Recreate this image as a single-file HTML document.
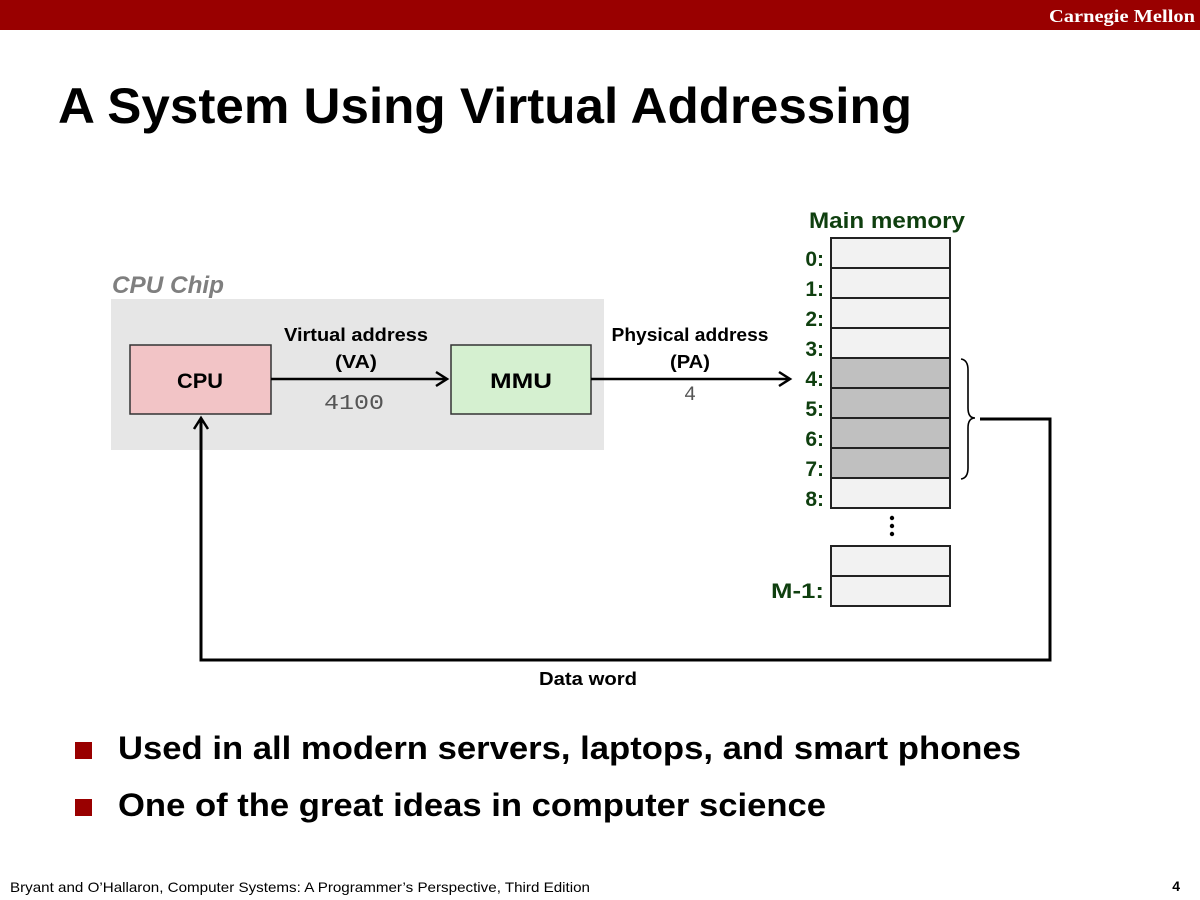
<!DOCTYPE html>
<html><head><meta charset="utf-8"><style>
html,body{margin:0;padding:0;background:#fff;}
svg{display:block;}
text{font-family:"Liberation Sans",sans-serif;font-weight:bold;}
</style></head><body>
<svg width="1200" height="900" viewBox="0 0 1200 900" xmlns="http://www.w3.org/2000/svg">
<rect x="0" y="0" width="1200" height="30" fill="#990000"/>
<text x="1195" y="22" text-anchor="end" fill="#fff" style="font-family:'Liberation Serif',serif" font-size="18" textLength="146" lengthAdjust="spacingAndGlyphs">Carnegie Mellon</text>
<text x="58" y="123" font-size="50" fill="#000" textLength="854" lengthAdjust="spacingAndGlyphs">A System Using Virtual Addressing</text>

<rect x="111" y="299" width="493" height="151" fill="#e6e6e6"/>
<text x="112" y="293" font-size="24" fill="#7f7f7f" font-style="italic" textLength="112" lengthAdjust="spacingAndGlyphs">CPU Chip</text>

<rect x="130" y="345" width="141" height="69" fill="#f2c4c6" stroke="#333" stroke-width="1.5"/>
<text x="200" y="388" font-size="21" text-anchor="middle" textLength="46" lengthAdjust="spacingAndGlyphs">CPU</text>
<rect x="451" y="345" width="140" height="69" fill="#d5f0d0" stroke="#333" stroke-width="1.5"/>
<text x="521" y="388" font-size="21" text-anchor="middle" textLength="62" lengthAdjust="spacingAndGlyphs">MMU</text>

<text x="356" y="341" font-size="18" text-anchor="middle" textLength="144" lengthAdjust="spacingAndGlyphs">Virtual address</text>
<text x="356" y="368" font-size="18" text-anchor="middle" textLength="42" lengthAdjust="spacingAndGlyphs">(VA)</text>
<line x1="271" y1="379" x2="446" y2="379" stroke="#000" stroke-width="2.5"/>
<polyline points="436,372 447,379 436,386" fill="none" stroke="#000" stroke-width="2.5"/>
<text x="354" y="409" font-size="21" text-anchor="middle" fill="#555" style="font-family:'Liberation Mono',monospace;font-weight:normal" textLength="60" lengthAdjust="spacingAndGlyphs">4100</text>

<text x="690" y="341" font-size="18" text-anchor="middle" textLength="157" lengthAdjust="spacingAndGlyphs">Physical address</text>
<text x="690" y="368" font-size="18" text-anchor="middle" textLength="40" lengthAdjust="spacingAndGlyphs">(PA)</text>
<line x1="591" y1="379" x2="789" y2="379" stroke="#000" stroke-width="2.5"/>
<polyline points="779,372 790,379 779,386" fill="none" stroke="#000" stroke-width="2.5"/>
<text x="690" y="400" font-size="20" text-anchor="middle" fill="#555" style="font-family:'Liberation Mono',monospace;font-weight:normal">4</text>

<text x="887" y="228" font-size="22" text-anchor="middle" fill="#0f3f0f" textLength="156" lengthAdjust="spacingAndGlyphs">Main memory</text>
<g stroke="#222" stroke-width="2">
<rect x="831" y="238" width="119" height="30" fill="#f2f2f2"/>
<rect x="831" y="268" width="119" height="30" fill="#f2f2f2"/>
<rect x="831" y="298" width="119" height="30" fill="#f2f2f2"/>
<rect x="831" y="328" width="119" height="30" fill="#f2f2f2"/>
<rect x="831" y="358" width="119" height="30" fill="#c0c0c0"/>
<rect x="831" y="388" width="119" height="30" fill="#c0c0c0"/>
<rect x="831" y="418" width="119" height="30" fill="#c0c0c0"/>
<rect x="831" y="448" width="119" height="30" fill="#c0c0c0"/>
<rect x="831" y="478" width="119" height="30" fill="#f2f2f2"/>
<rect x="831" y="546" width="119" height="30" fill="#f2f2f2"/>
<rect x="831" y="576" width="119" height="30" fill="#f2f2f2"/>
</g>
<g font-size="21" fill="#0f3f0f" text-anchor="end">
<text x="824" y="266">0:</text>
<text x="824" y="296">1:</text>
<text x="824" y="326">2:</text>
<text x="824" y="356">3:</text>
<text x="824" y="386">4:</text>
<text x="824" y="416">5:</text>
<text x="824" y="446">6:</text>
<text x="824" y="476">7:</text>
<text x="824" y="506">8:</text>
<text x="824" y="598" textLength="53" lengthAdjust="spacingAndGlyphs">M-1:</text>
</g>
<g fill="#000"><circle cx="892" cy="518" r="2.2"/><circle cx="892" cy="526" r="2.2"/><circle cx="892" cy="534" r="2.2"/></g>

<path d="M961,359 Q968,360 968,370 L968,408 Q968,418 975,418 Q968,418 968,428 L968,468 Q968,478 961,479" fill="none" stroke="#000" stroke-width="1.6"/>
<polyline points="980,419 1050,419 1050,660 201,660 201,420" fill="none" stroke="#000" stroke-width="3"/>
<polyline points="194,429 201,418 208,429" fill="none" stroke="#000" stroke-width="2.5"/>
<text x="588" y="685" font-size="18" text-anchor="middle" textLength="98" lengthAdjust="spacingAndGlyphs">Data word</text>

<rect x="75" y="742" width="17" height="17" fill="#990000"/>
<text x="118" y="759" font-size="32" textLength="903" lengthAdjust="spacingAndGlyphs">Used in all modern servers, laptops, and smart phones</text>
<rect x="75" y="799" width="17" height="17" fill="#990000"/>
<text x="118" y="816" font-size="32" textLength="708" lengthAdjust="spacingAndGlyphs">One of the great ideas in computer science</text>

<text x="10" y="892" font-size="14" style="font-weight:normal" textLength="580" lengthAdjust="spacingAndGlyphs">Bryant and O’Hallaron, Computer Systems: A Programmer’s Perspective, Third Edition</text>
<text x="1180" y="891" font-size="14" text-anchor="end">4</text>
</svg>
</body></html>
